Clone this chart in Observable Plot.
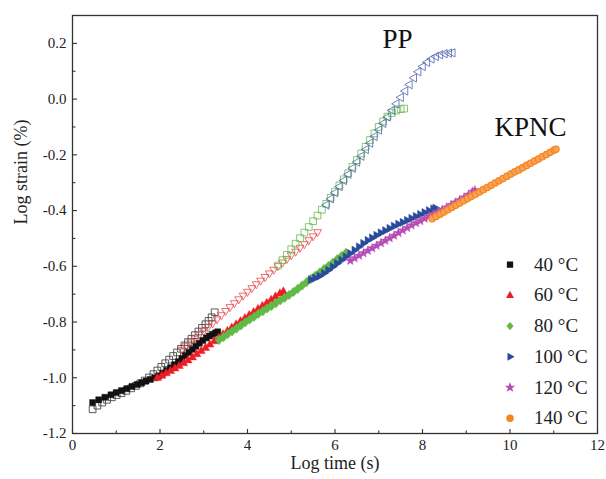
<!DOCTYPE html>
<html>
<head>
<meta charset="utf-8">
<script src="https://cdn.jsdelivr.net/npm/d3@7"></script>
<script src="https://cdn.jsdelivr.net/npm/@observablehq/plot@0.6"></script>
<style>
  html, body { margin: 0; padding: 0; background: #fff; }
  #chart svg { display: block; }
  #chart svg text { font-family: "Liberation Serif", "DejaVu Serif", serif !important; }
</style>
</head>
<body>
<div id="chart"></div>
<script>
// ---------- data (log time, log strain) ----------
const kpnc40 = [[0.46,-1.089],[0.6,-1.079],[0.74,-1.07],[0.88,-1.061],[1.0,-1.053],[1.12,-1.046],[1.24,-1.039],[1.36,-1.031],[1.48,-1.024],[1.58,-1.018],[1.68,-1.012],[1.78,-1.006],[1.88,-1.0],[1.97,-0.993],[2.06,-0.984],[2.15,-0.974],[2.24,-0.964],[2.33,-0.953],[2.42,-0.942],[2.5,-0.931],[2.58,-0.92],[2.66,-0.909],[2.74,-0.898],[2.82,-0.887],[2.9,-0.876],[2.98,-0.866],[3.06,-0.857],[3.13,-0.85],[3.2,-0.844],[3.27,-0.839],[3.32,-0.835]];
const kpnc60 = [[1.94,-1.0],[2.04,-0.992],[2.14,-0.983],[2.24,-0.975],[2.34,-0.966],[2.44,-0.957],[2.54,-0.947],[2.64,-0.937],[2.74,-0.926],[2.84,-0.915],[2.94,-0.903],[3.04,-0.892],[3.14,-0.88],[3.24,-0.868],[3.34,-0.856],[3.44,-0.844],[3.54,-0.832],[3.64,-0.82],[3.74,-0.808],[3.84,-0.797],[3.94,-0.786],[4.04,-0.775],[4.14,-0.764],[4.24,-0.753],[4.34,-0.742],[4.44,-0.731],[4.54,-0.72],[4.64,-0.708],[4.74,-0.697],[4.82,-0.69]];
const kpnc80 = [[3.35,-0.864],[3.45,-0.854],[3.55,-0.843],[3.65,-0.833],[3.75,-0.823],[3.85,-0.812],[3.95,-0.801],[4.05,-0.791],[4.15,-0.781],[4.25,-0.77],[4.35,-0.761],[4.45,-0.751],[4.55,-0.742],[4.65,-0.732],[4.75,-0.722],[4.85,-0.713],[4.95,-0.703],[5.05,-0.692],[5.15,-0.681],[5.25,-0.669],[5.35,-0.657],[5.45,-0.645],[5.55,-0.634],[5.65,-0.622],[5.75,-0.61],[5.85,-0.599],[5.95,-0.587],[6.05,-0.575],[6.15,-0.563],[6.25,-0.552]];
const kpnc100 = [[5.45,-0.648],[5.55,-0.642],[5.65,-0.635],[5.75,-0.625],[5.85,-0.614],[5.95,-0.602],[6.05,-0.59],[6.15,-0.578],[6.25,-0.566],[6.35,-0.554],[6.45,-0.542],[6.55,-0.53],[6.65,-0.518],[6.75,-0.507],[6.85,-0.498],[6.95,-0.489],[7.05,-0.48],[7.15,-0.472],[7.25,-0.464],[7.35,-0.456],[7.45,-0.449],[7.55,-0.442],[7.65,-0.435],[7.75,-0.428],[7.85,-0.421],[7.95,-0.414],[8.05,-0.407],[8.15,-0.4],[8.25,-0.394],[8.3,-0.391]];
const kpnc120 = [[6.35,-0.58],[6.45,-0.571],[6.55,-0.562],[6.65,-0.553],[6.75,-0.544],[6.85,-0.535],[6.95,-0.526],[7.05,-0.517],[7.15,-0.508],[7.25,-0.499],[7.35,-0.49],[7.45,-0.48],[7.55,-0.471],[7.65,-0.462],[7.75,-0.453],[7.85,-0.445],[7.95,-0.437],[8.05,-0.429],[8.15,-0.421],[8.25,-0.413],[8.35,-0.405],[8.45,-0.397],[8.55,-0.389],[8.65,-0.38],[8.75,-0.371],[8.85,-0.362],[8.95,-0.353],[9.05,-0.343],[9.15,-0.332],[9.2,-0.327]];
const kpnc140 = [[8.22,-0.429],[8.31,-0.421],[8.4,-0.413],[8.49,-0.405],[8.58,-0.397],[8.67,-0.389],[8.76,-0.381],[8.85,-0.373],[8.94,-0.365],[9.03,-0.357],[9.12,-0.349],[9.21,-0.341],[9.3,-0.333],[9.39,-0.325],[9.48,-0.317],[9.57,-0.309],[9.66,-0.301],[9.75,-0.293],[9.84,-0.285],[9.93,-0.277],[10.02,-0.269],[10.11,-0.261],[10.2,-0.254],[10.29,-0.246],[10.38,-0.238],[10.47,-0.23],[10.56,-0.222],[10.65,-0.215],[10.74,-0.207],[10.83,-0.199],[10.92,-0.191],[11.01,-0.183],[11.05,-0.18]];

const pp40 = [[0.46,-1.113],[0.57,-1.1],[0.68,-1.089],[0.79,-1.079],[0.9,-1.07],[1.01,-1.062],[1.12,-1.055],[1.23,-1.047],[1.34,-1.038],[1.45,-1.029],[1.55,-1.02],[1.65,-1.01],[1.75,-0.999],[1.85,-0.987],[1.94,-0.974],[2.03,-0.961],[2.12,-0.948],[2.21,-0.935],[2.3,-0.922],[2.39,-0.909],[2.48,-0.896],[2.56,-0.884],[2.64,-0.872],[2.72,-0.86],[2.8,-0.847],[2.88,-0.834],[2.96,-0.821],[3.04,-0.808],[3.11,-0.796],[3.18,-0.783],[3.25,-0.765]];
const pp60 = [[2.5,-0.9],[2.6,-0.887],[2.7,-0.873],[2.8,-0.86],[2.9,-0.846],[3.0,-0.833],[3.1,-0.819],[3.2,-0.806],[3.3,-0.791],[3.4,-0.776],[3.5,-0.761],[3.6,-0.747],[3.7,-0.733],[3.8,-0.719],[3.9,-0.706],[4.0,-0.692],[4.1,-0.679],[4.2,-0.665],[4.3,-0.652],[4.4,-0.639],[4.5,-0.626],[4.6,-0.613],[4.7,-0.6],[4.8,-0.587],[4.9,-0.574],[5.0,-0.561],[5.1,-0.548],[5.2,-0.534],[5.3,-0.521],[5.4,-0.507],[5.5,-0.493],[5.6,-0.478]];
const pp80 = [[4.7,-0.597],[4.8,-0.578],[4.9,-0.559],[5.0,-0.539],[5.1,-0.519],[5.2,-0.499],[5.3,-0.479],[5.4,-0.459],[5.5,-0.438],[5.6,-0.418],[5.7,-0.397],[5.8,-0.376],[5.9,-0.354],[6.0,-0.332],[6.1,-0.31],[6.2,-0.288],[6.3,-0.266],[6.4,-0.243],[6.5,-0.219],[6.6,-0.195],[6.7,-0.171],[6.8,-0.147],[6.9,-0.123],[7.0,-0.1],[7.1,-0.08],[7.2,-0.063],[7.3,-0.05],[7.4,-0.041],[7.5,-0.036],[7.58,-0.034]];
const pp100 = [[5.8,-0.38],[5.9,-0.358],[6.0,-0.336],[6.1,-0.314],[6.2,-0.292],[6.3,-0.27],[6.4,-0.248],[6.5,-0.226],[6.6,-0.205],[6.7,-0.181],[6.8,-0.158],[6.9,-0.134],[7.0,-0.111],[7.1,-0.087],[7.2,-0.064],[7.3,-0.04],[7.4,-0.017],[7.5,0.006],[7.6,0.029],[7.7,0.052],[7.8,0.076],[7.9,0.098],[8.0,0.117],[8.1,0.132],[8.2,0.144],[8.3,0.153],[8.4,0.159],[8.5,0.163],[8.6,0.165],[8.68,0.166]];

const xTicks = [0, 2, 4, 6, 8, 10, 12];
const xMinor = [1, 3, 5, 7, 9, 11];
const yTicks = [-1.2, -1.0, -0.8, -0.6, -0.4, -0.2, 0.0, 0.2];
const yMinor = [-1.1, -0.9, -0.7, -0.5, -0.3, -0.1, 0.1];
const legendLabels = ["40 °C", "60 °C", "80 °C", "100 °C", "120 °C", "140 °C"];
const groupLabels = [{t: "PP", x: 7.43, y: 0.216}, {t: "KPNC", x: 10.47, y: -0.103}];

// ---------- symbols ----------
const sym = f => ({draw(ctx, size) { f(ctx, Math.sqrt(size / Math.PI)); }});
const triUp = sym((c, r) => { c.moveTo(0, -r); c.lineTo(r * 0.9, r * 0.6); c.lineTo(-r * 0.9, r * 0.6); c.closePath(); });
const triDown = sym((c, r) => { c.moveTo(0, r); c.lineTo(r * 0.9, -r * 0.6); c.lineTo(-r * 0.9, -r * 0.6); c.closePath(); });
const triRight = sym((c, r) => { c.moveTo(r, 0); c.lineTo(-r * 0.6, r * 0.9); c.lineTo(-r * 0.6, -r * 0.9); c.closePath(); });
const triLeft = sym((c, r) => { c.moveTo(-r, 0); c.lineTo(r * 0.6, r * 0.9); c.lineTo(r * 0.6, -r * 0.9); c.closePath(); });
const square = sym((c, r) => { const s = r * 0.8; c.moveTo(-s, -s); c.lineTo(s, -s); c.lineTo(s, s); c.lineTo(-s, s); c.closePath(); });
const diamond = sym((c, r) => { c.moveTo(0, -r); c.lineTo(r * 0.85, 0); c.lineTo(0, r); c.lineTo(-r * 0.85, 0); c.closePath(); });
const star = sym((c, r) => {
  const ri = r * 0.42;
  for (let k = 0; k < 10; ++k) {
    const a = -Math.PI / 2 + k * Math.PI / 5, rr = k % 2 ? ri : r;
    const px = rr * Math.cos(a), py = rr * Math.sin(a);
    if (k === 0) c.moveTo(px, py); else c.lineTo(px, py);
  }
  c.closePath();
});
const tickRight = sym((c, r) => { c.moveTo(0, 0); c.lineTo(r, 0); });
const tickUp = sym((c, r) => { c.moveTo(0, 0); c.lineTo(0, -r); });

const colors = {k: "#111111", r: "#ee1c25", g: "#62b946", b: "#2a4b9b", m: "#b54db5", o: "#f5841f"};
const serif = "Liberation Serif";

const rows = (arr) => arr.map(([x, y]) => ({x, y}));
const filled = (arr, symbol, color, r) => Plot.dot(rows(arr), {x: "x", y: "y", symbol: () => symbol, r, fill: color, stroke: color, strokeWidth: 0.4});
const open = (arr, symbol, color, r) => Plot.dot(rows(arr), {x: "x", y: "y", symbol: () => symbol, r, fill: "none", stroke: color, strokeWidth: 0.8});

const legendSymbols = [square, triUp, diamond, triRight, star, "circle"];
const legendColors = [colors.k, colors.r, colors.g, colors.b, colors.m, colors.o];
const legendRows = legendLabels.map((label, i) => ({label, i, sym: legendSymbols[i], color: legendColors[i], x: 10.0, tx: 10.55, y: -0.594 - i * 0.1102}));

const chart = Plot.plot({
  width: 606,
  height: 479,
  marginLeft: 72,
  marginRight: 9,
  marginTop: 15,
  marginBottom: 46,
  style: "font-family: 'Liberation Serif', serif; background: #fff; color: #222;",
  x: {domain: [0, 12], axis: null},
  y: {domain: [-1.2, 0.3], axis: null},
  symbol: {type: "identity"},
  marks: [
    // PP (open)
    open(pp40, square, "#333333", 4.2),
    open(pp60, triDown, "#e8484d", 4.4),
    open(pp80, square, "#67bd4c", 4.2),
    open(pp100, triLeft, "#4f63b0", 4.6),
    // KPNC (filled)
    filled(kpnc40, square, colors.k, 3.8),
    filled(kpnc60, triUp, colors.r, 4.6),
    filled(kpnc80, diamond, colors.g, 4.8),
    filled(kpnc100, triRight, colors.b, 4.6),
    filled(kpnc120, star, colors.m, 4.8),
    Plot.dot(rows(kpnc140), {x: "x", y: "y", symbol: "circle", r: 3.2, fill: "#f9a256", stroke: colors.o, strokeWidth: 1.2}),
    // frame
    Plot.frame({stroke: "#333", strokeWidth: 1.3}),
    // inward ticks
    Plot.dot(yTicks, {x: 0, y: d => d, symbol: () => tickRight, r: 4.5, fill: "none", stroke: "#333", strokeWidth: 1.1}),
    Plot.dot(yMinor, {x: 0, y: d => d, symbol: () => tickRight, r: 3, fill: "none", stroke: "#333", strokeWidth: 1.1}),
    Plot.dot(xTicks, {x: d => d, y: -1.2, symbol: () => tickUp, r: 4.5, fill: "none", stroke: "#333", strokeWidth: 1.1}),
    Plot.dot(xMinor, {x: d => d, y: -1.2, symbol: () => tickUp, r: 3, fill: "none", stroke: "#333", strokeWidth: 1.1}),
    // tick labels
    Plot.axisY({ticks: yTicks, tickSize: 0, tickPadding: 6, tickFormat: d => d.toFixed(1), fontSize: 15, fontFamily: serif, label: null, fill: "#222"}),
    Plot.axisX({ticks: xTicks, tickSize: 0, tickPadding: 6, tickFormat: d => String(d), fontSize: 15, fontFamily: serif, label: null, fill: "#222"}),
    // axis titles
    Plot.text(["Log strain (%)"], {frameAnchor: "left", rotate: -90, dx: -51, fontSize: 18, fontFamily: serif, fill: "#222"}),
    Plot.text(["Log time (s)"], {frameAnchor: "bottom", dy: 35, fontSize: 18, fontFamily: serif, fill: "#222"}),
    // group labels
    Plot.text(groupLabels, {x: "x", y: "y", text: "t", fontSize: 27, fontFamily: serif, fill: "#111"}),
    // legend
    Plot.dot(legendRows, {x: "x", y: "y", symbol: d => d.sym, r: d => d.i === 4 ? 4 : 3.4, fill: d => d.color, stroke: d => d.color}),
    Plot.text(legendRows, {x: "tx", y: "y", text: "label", textAnchor: "start", fontSize: 19, fontFamily: serif, fill: "#222"})
  ]
});
document.getElementById("chart").appendChild(chart);
</script>
</body>
</html>
